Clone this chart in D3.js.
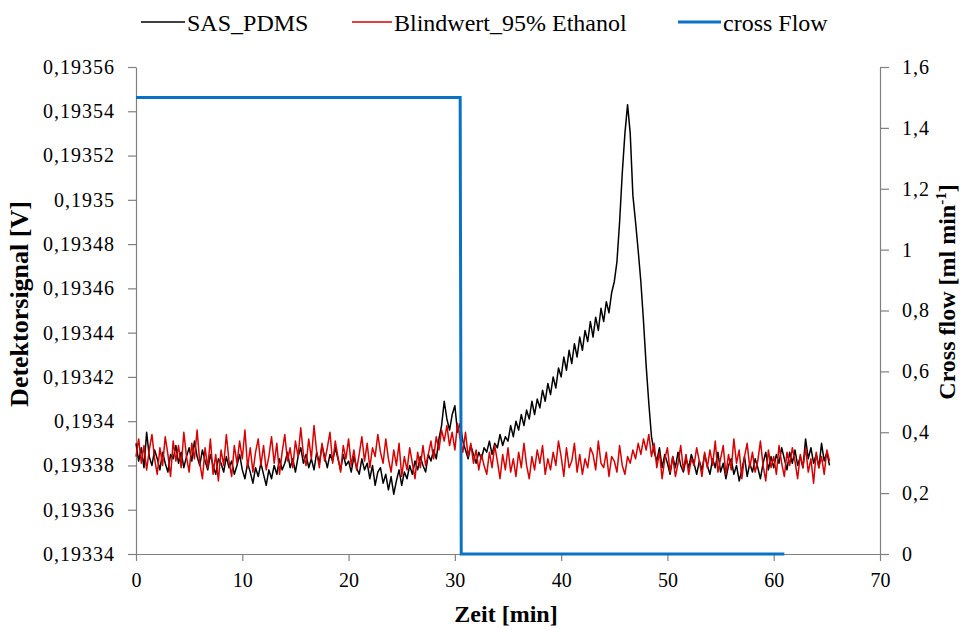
<!DOCTYPE html>
<html>
<head>
<meta charset="utf-8">
<script src="https://cdn.jsdelivr.net/npm/d3@7"></script>
<style>
body { margin: 0; background: #fff; }
svg text { font-family: "Liberation Serif", "Times New Roman", Tinos, "Nimbus Roman", "DejaVu Serif", serif; }
</style>
</head>
<body>
<svg id="chart"></svg>
<script>
// one sample every 0.25 min, starting at 0
const timeStep = 0.25;

// detector signal [V]
const sasPdms = [
  0.193390, 0.193382, 0.193388, 0.193379,
  0.193395, 0.193384, 0.193380, 0.193387,
  0.193383, 0.193378, 0.193386, 0.193381,
  0.193377, 0.193385, 0.193383, 0.193389,
  0.193381, 0.193386, 0.193379, 0.193384,
  0.193388, 0.193382, 0.193391, 0.193384,
  0.193380, 0.193387, 0.193382, 0.193378,
  0.193385, 0.193380, 0.193376, 0.193383,
  0.193381, 0.193377, 0.193384, 0.193379,
  0.193382, 0.193376, 0.193380, 0.193385,
  0.193378, 0.193374, 0.193381, 0.193377,
  0.193372, 0.193379, 0.193375, 0.193381,
  0.193376, 0.193371, 0.193378, 0.193374,
  0.193380, 0.193376, 0.193383, 0.193378,
  0.193381, 0.193386, 0.193379, 0.193383,
  0.193377, 0.193384, 0.193388, 0.193381,
  0.193385, 0.193379, 0.193383, 0.193378,
  0.193386, 0.193381, 0.193389, 0.193384,
  0.193379, 0.193385, 0.193382, 0.193388,
  0.193383, 0.193378, 0.193385, 0.193380,
  0.193382, 0.193377, 0.193384, 0.193379,
  0.193376, 0.193383, 0.193378, 0.193381,
  0.193374, 0.193380, 0.193371, 0.193377,
  0.193379, 0.193372, 0.193376, 0.193369,
  0.193375, 0.193367, 0.193373, 0.193378,
  0.193371, 0.193377, 0.193374, 0.193380,
  0.193376, 0.193382, 0.193378, 0.193384,
  0.193380, 0.193377, 0.193385, 0.193382,
  0.193387, 0.193383, 0.193392, 0.193398,
  0.193409, 0.193401, 0.193396, 0.193403,
  0.193407, 0.193395, 0.193399, 0.193391,
  0.193387, 0.193383, 0.193389, 0.193385,
  0.193381, 0.193386, 0.193383, 0.193388,
  0.193386, 0.193391, 0.193385, 0.193390,
  0.193388, 0.193394, 0.193389, 0.193393,
  0.193391, 0.193398, 0.193393, 0.193400,
  0.193396, 0.193403, 0.193398, 0.193405,
  0.193401, 0.193409, 0.193403, 0.193410,
  0.193406, 0.193414, 0.193409, 0.193417,
  0.193412, 0.193420, 0.193415, 0.193424,
  0.193420, 0.193429, 0.193423, 0.193432,
  0.193426, 0.193435, 0.193429, 0.193438,
  0.193432, 0.193441, 0.193436, 0.193445,
  0.193438, 0.193447, 0.193441, 0.193451,
  0.193445, 0.193454, 0.193449, 0.193458,
  0.193463, 0.193472, 0.193490, 0.193512,
  0.193530, 0.193543, 0.193530, 0.193502,
  0.193490, 0.193477, 0.193463, 0.193445,
  0.193425, 0.193408, 0.193393, 0.193386,
  0.193382, 0.193388, 0.193379, 0.193385,
  0.193381, 0.193376, 0.193384, 0.193379,
  0.193386, 0.193380, 0.193377, 0.193383,
  0.193379, 0.193385, 0.193381, 0.193376,
  0.193382, 0.193378, 0.193385, 0.193380,
  0.193376, 0.193383, 0.193379, 0.193386,
  0.193377, 0.193381, 0.193374, 0.193380,
  0.193383, 0.193376, 0.193380, 0.193373,
  0.193378, 0.193384, 0.193375, 0.193381,
  0.193377, 0.193383, 0.193379, 0.193374,
  0.193381, 0.193386, 0.193378, 0.193384,
  0.193379, 0.193385, 0.193381, 0.193388,
  0.193383, 0.193378, 0.193386, 0.193381,
  0.193387, 0.193380, 0.193384, 0.193379,
  0.193392, 0.193383, 0.193388, 0.193381,
  0.193385, 0.193379, 0.193390, 0.193382,
  0.193386, 0.193380
];

const blindwert = [
  0.193384, 0.193392, 0.193381, 0.193389,
  0.193378, 0.193387, 0.193394, 0.193383,
  0.193376, 0.193388, 0.193380, 0.193393,
  0.193385, 0.193375, 0.193391, 0.193382,
  0.193389, 0.193379, 0.193395, 0.193384,
  0.193377, 0.193390, 0.193383, 0.193396,
  0.193381, 0.193374, 0.193388, 0.193379,
  0.193392, 0.193376, 0.193385, 0.193373,
  0.193387, 0.193380, 0.193394, 0.193382,
  0.193375, 0.193389, 0.193381, 0.193391,
  0.193383, 0.193396, 0.193379, 0.193388,
  0.193377, 0.193386, 0.193392, 0.193380,
  0.193389, 0.193378, 0.193384, 0.193393,
  0.193381, 0.193390, 0.193376, 0.193386,
  0.193394, 0.193382, 0.193388, 0.193379,
  0.193391, 0.193384, 0.193397, 0.193385,
  0.193380, 0.193392, 0.193383, 0.193398,
  0.193386, 0.193379, 0.193390, 0.193382,
  0.193388, 0.193395, 0.193381, 0.193391,
  0.193384, 0.193377, 0.193389, 0.193383,
  0.193392, 0.193380, 0.193387, 0.193378,
  0.193385, 0.193393, 0.193382, 0.193390,
  0.193379, 0.193388, 0.193384, 0.193394,
  0.193386, 0.193381, 0.193392, 0.193383,
  0.193377, 0.193387, 0.193380, 0.193390,
  0.193375, 0.193384, 0.193378, 0.193388,
  0.193381, 0.193374, 0.193386, 0.193379,
  0.193389, 0.193380, 0.193385, 0.193391,
  0.193383, 0.193393, 0.193387, 0.193396,
  0.193391, 0.193398, 0.193389, 0.193395,
  0.193387, 0.193399, 0.193392, 0.193386,
  0.193395, 0.193384, 0.193390, 0.193381,
  0.193387, 0.193378, 0.193385, 0.193380,
  0.193376, 0.193386, 0.193379, 0.193389,
  0.193382, 0.193374, 0.193385, 0.193378,
  0.193388, 0.193377, 0.193383, 0.193375,
  0.193386, 0.193379, 0.193390, 0.193380,
  0.193374, 0.193384, 0.193378, 0.193387,
  0.193381, 0.193389, 0.193376, 0.193383,
  0.193378, 0.193386, 0.193380, 0.193391,
  0.193384, 0.193375, 0.193388, 0.193379,
  0.193382, 0.193390, 0.193377, 0.193385,
  0.193376, 0.193383, 0.193379, 0.193388,
  0.193385, 0.193378, 0.193391, 0.193381,
  0.193379, 0.193386, 0.193375, 0.193384,
  0.193382, 0.193377, 0.193389, 0.193380,
  0.193376, 0.193384, 0.193381, 0.193387,
  0.193383, 0.193390, 0.193385, 0.193392,
  0.193387, 0.193394, 0.193384, 0.193390,
  0.193379, 0.193386, 0.193374, 0.193383,
  0.193388, 0.193377, 0.193384, 0.193375,
  0.193381, 0.193389, 0.193378, 0.193385,
  0.193376, 0.193383, 0.193380, 0.193388,
  0.193382, 0.193375, 0.193386, 0.193379,
  0.193387, 0.193380, 0.193391, 0.193377,
  0.193383, 0.193389, 0.193376, 0.193385,
  0.193378, 0.193392, 0.193381, 0.193387,
  0.193374, 0.193384, 0.193390, 0.193379,
  0.193386, 0.193377, 0.193382, 0.193391,
  0.193380, 0.193373, 0.193387, 0.193379,
  0.193384, 0.193376, 0.193389, 0.193381,
  0.193375, 0.193386, 0.193380, 0.193388,
  0.193382, 0.193374, 0.193385, 0.193379,
  0.193388, 0.193377, 0.193383, 0.193372,
  0.193386, 0.193379, 0.193384, 0.193376,
  0.193387, 0.193382
];

// cross flow [ml/min] on the right axis
const crossFlowTime = [0, 30.5, 30.6, 61];
const crossFlow = [1.5, 1.5, 0, 0];

const xTicks = [0, 10, 20, 30, 40, 50, 60, 70];
const leftTicks = [0.19334, 0.19336, 0.19338, 0.1934, 0.19342, 0.19344, 0.19346, 0.19348, 0.1935, 0.19352, 0.19354, 0.19356];
const rightTicks = [0, 0.2, 0.4, 0.6, 0.8, 1, 1.2, 1.4, 1.6];

const w = 962;
const h = 629;
const axisColor = '#808080';
const serif = '"Liberation Serif", "Times New Roman", Tinos, "Nimbus Roman", "DejaVu Serif", serif';
const comma = d => String(d).replace('.', ',');

const svg = d3.select('#chart')
  .attr('width', w)
  .attr('height', h);

const x = d3.scaleLinear().domain([0, 70]).range([136, 880]);
const yLeft = d3.scaleLinear().domain([0.19334, 0.19356]).range([554, 67]);
const yRight = d3.scaleLinear().domain([0, 1.6]).range([554, 67]);

function styleAxis(g) {
  g.attr('font-family', null).attr('font-size', null);
  g.selectAll('path, line').attr('stroke', axisColor).attr('stroke-width', 1.2);
  g.selectAll('text')
    .attr('fill', '#000')
    .style('font-family', serif)
    .style('font-size', '20px');
}

svg.append('g')
  .attr('transform', 'translate(0,554)')
  .call(d3.axisBottom(x).tickValues(xTicks).tickSize(7).tickSizeOuter(0).tickPadding(12))
  .call(styleAxis);

svg.append('g')
  .attr('transform', 'translate(136,0)')
  .call(d3.axisLeft(yLeft).tickValues(leftTicks).tickFormat(comma).tickSize(8).tickSizeOuter(0).tickPadding(13))
  .call(styleAxis)
  .selectAll('text').style('letter-spacing', '1px');

svg.append('g')
  .attr('transform', 'translate(880,0)')
  .call(d3.axisRight(yRight).tickValues(rightTicks).tickFormat(comma).tickSize(9).tickSizeOuter(0).tickPadding(13))
  .call(styleAxis)
  .selectAll('text').style('letter-spacing', '1px');

const signalLine = d3.line()
  .x((v, i) => x(i * timeStep))
  .y(v => yLeft(v));

const flowLine = d3.line()
  .x((v, i) => x(crossFlowTime[i]))
  .y(v => yRight(v));

svg.append('path')
  .datum(sasPdms)
  .attr('fill', 'none')
  .attr('stroke', '#000')
  .attr('stroke-width', 1.5)
  .attr('stroke-linejoin', 'round')
  .attr('d', signalLine);

svg.append('path')
  .datum(blindwert)
  .attr('fill', 'none')
  .attr('stroke', '#d80000')
  .attr('stroke-width', 1.5)
  .attr('stroke-linejoin', 'round')
  .attr('d', signalLine);

svg.append('path')
  .datum(crossFlow)
  .attr('fill', 'none')
  .attr('stroke', '#0a72c6')
  .attr('stroke-width', 3)
  .attr('d', flowLine);

// legend
const legend = [
  {label: 'SAS_PDMS', color: '#000', width: 1.5, x0: 141, x1: 185},
  {label: 'Blindwert_95% Ethanol', color: '#d80000', width: 1.5, x0: 352, x1: 392},
  {label: 'cross Flow', color: '#0a72c6', width: 3, x0: 678, x1: 721}
];

legend.forEach(d => {
  svg.append('line')
    .attr('x1', d.x0).attr('x2', d.x1)
    .attr('y1', 22).attr('y2', 22)
    .attr('stroke', d.color)
    .attr('stroke-width', d.width);
  svg.append('text')
    .attr('x', d.x1 + 2)
    .attr('y', 31)
    .style('font-family', serif)
    .style('font-size', '24px')
    .text(d.label);
});

// axis titles
svg.append('text')
  .attr('x', 506)
  .attr('y', 622)
  .attr('text-anchor', 'middle')
  .style('font-family', serif)
  .style('font-size', '24px')
  .style('font-weight', 'bold')
  .text('Zeit [min]');

svg.append('text')
  .attr('transform', 'translate(28,304) rotate(-90)')
  .attr('text-anchor', 'middle')
  .style('font-family', serif)
  .style('font-size', '26px')
  .style('font-weight', 'bold')
  .text('Detektorsignal [V]');

const rightTitle = svg.append('text')
  .attr('transform', 'translate(955,292) rotate(-90)')
  .attr('text-anchor', 'middle')
  .style('font-family', serif)
  .style('font-size', '24px')
  .style('font-weight', 'bold');
rightTitle.append('tspan').text('Cross flow [ml min');
rightTitle.append('tspan').attr('dy', -9).style('font-size', '15px').text('-1');
rightTitle.append('tspan').attr('dy', 9).text(']');
</script>
</body>
</html>
